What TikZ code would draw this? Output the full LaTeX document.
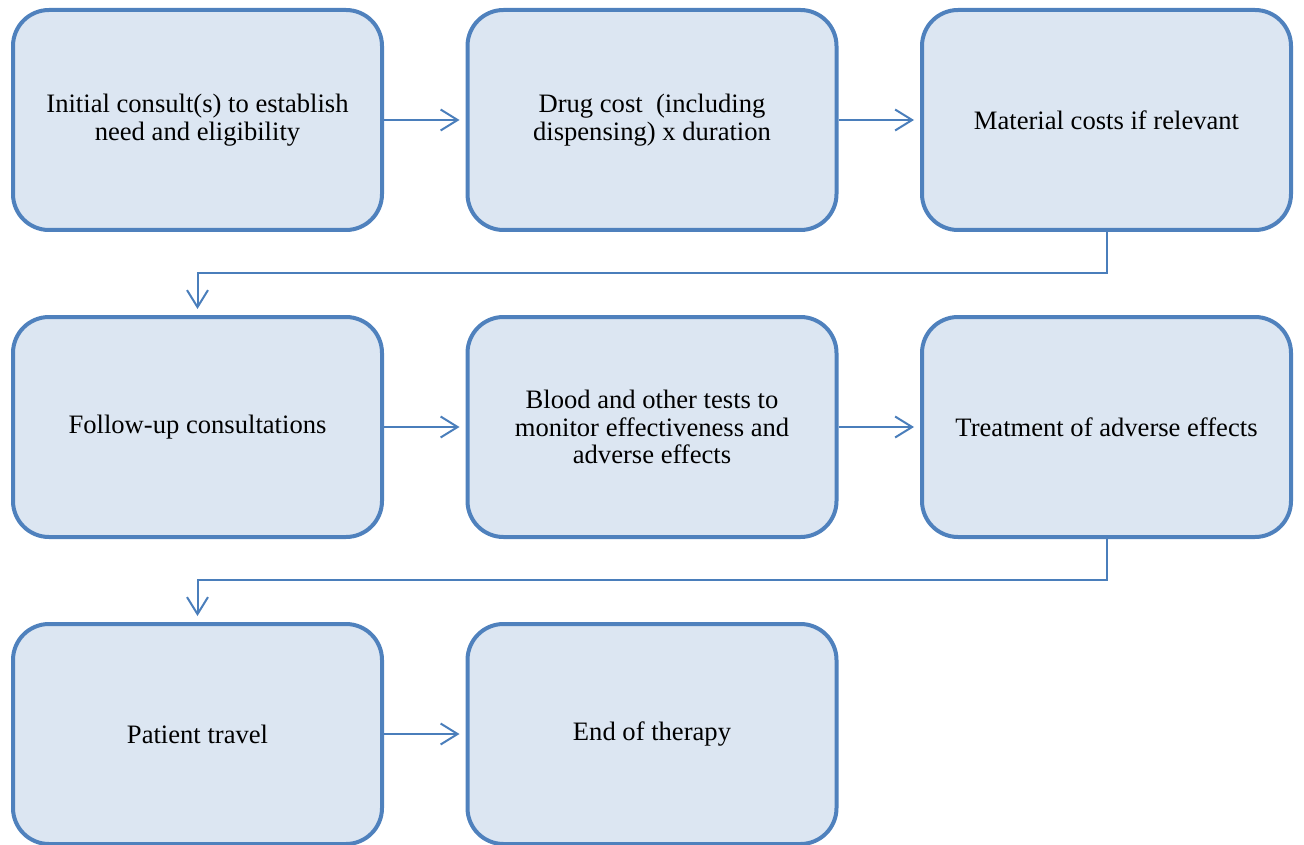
\documentclass[tikz,border=0pt]{standalone}
\usepackage{fontspec}
\setmainfont{Liberation Serif}
\usetikzlibrary{arrows.meta}
\definecolor{boxfill}{HTML}{DCE6F2}
\definecolor{boxline}{HTML}{4F81BD}
\definecolor{linkcol}{HTML}{4A7EBB}
\begin{document}
\begin{tikzpicture}[x=1pt,y=-1pt,
  stepbox/.style={draw=boxline,fill=boxfill,line width=4pt,rounded corners=36pt,
    minimum width=369pt,minimum height=220pt,inner sep=0pt,align=center,
    font=\fontsize{26.6}{27.8}\selectfont},
  link/.style={draw=linkcol,line width=2pt,-{Straight Barb[length=17pt,width=21pt,line width=2pt]}}]
\useasboundingbox (0,0) rectangle (1304,845);
\node[stepbox] (b1) at (197.5,120) {Initial consult(s) to establish\\need and eligibility};
\node[stepbox] (b2) at (652,120) {Drug cost\ \ (including\\dispensing) x duration};
\node[stepbox] (b3) at (1106.5,120) {Material costs if relevant};
\node[stepbox] (b4) at (197.5,427) {Follow-up consultations};
\node[stepbox] (b5) at (652,427) {Blood and other tests to\\monitor effectiveness and\\adverse effects};
\node[stepbox] (b6) at (1106.5,427) {Treatment of adverse effects};
\node[stepbox] (b7) at (197.5,734) {Patient travel};
\node[stepbox] (b8) at (652,734) {End of therapy};
\draw[link,shorten >=6pt] (b1.east) -- (b2.west);
\draw[link,shorten >=6pt] (b2.east) -- (b3.west);
\draw[link,shorten >=6pt] (b4.east) -- (b5.west);
\draw[link,shorten >=6pt] (b5.east) -- (b6.west);
\draw[link,shorten >=6pt] (b7.east) -- (b8.west);
\draw[link,shorten >=6pt] (b3.south) -- ++(0,41) -| (b4.north);
\draw[link,shorten >=6pt] (b6.south) -- ++(0,41) -| (b7.north);
\end{tikzpicture}
\end{document}
